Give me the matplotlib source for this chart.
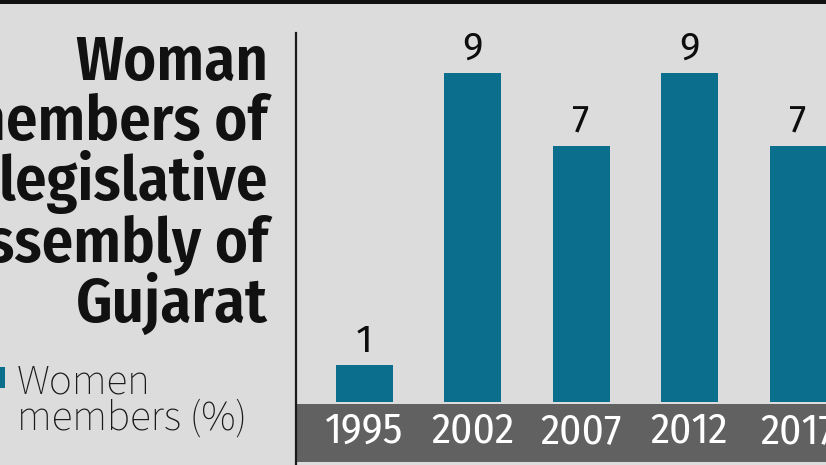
import matplotlib
matplotlib.use('Agg')
import matplotlib.pyplot as plt
from matplotlib import font_manager as fm
from matplotlib.patches import Rectangle
from matplotlib.lines import Line2D

years = ['1995', '2002', '2007', '2012', '2017']
women_pct = [1, 9, 7, 9, 7]
title_lines = ['Woman', 'members of', 'legislative', 'assembly of', 'Gujarat']
legend_lines = ['Women', 'members (%)']

names = {f.name for f in fm.fontManager.ttflist}


def pick(*cands):
    for c in cands:
        if c in names:
            return c
    return 'Liberation Sans'


title_font = pick('Fira Sans Condensed', 'PT Sans Narrow', 'Roboto Condensed')
year_font = pick('Fira Sans Condensed', 'PT Sans Narrow', 'Roboto Condensed')
label_font = pick('Fira Sans', 'Source Sans 3', 'Liberation Sans')
legend_font = pick('Source Sans 3', 'Fira Sans', 'Liberation Sans')

BG = '#dcdcdc'
BAR = '#0a6e8c'
BAND = '#616161'

W, H = 826, 465
fig = plt.figure(figsize=(W / 100, H / 100), dpi=100)
fig.patch.set_facecolor(BG)


def fx(px):
    return px / W


def fy(py):
    return 1 - py / H


# main axes: x 297..826 px, y 35..402 px
ax = fig.add_axes([fx(297), fy(402), fx(826) - fx(297), fy(35) - fy(402)])
ax.set_facecolor('none')
spacing = 108.5
xpos = list(range(len(years)))
left = -(364 - 297) / spacing
ax.set_xlim(left, left + (826 - 297) / spacing)
unit = (402 - 73) / 9
ax.set_ylim(0, (402 - 35) / unit)

bars = ax.bar(xpos, women_pct, width=57 / spacing, color=BAR, zorder=3)
ax.bar_label(bars, labels=[str(v) for v in women_pct], padding=4,
             fontsize=28, family=label_font, weight='normal', color='#0d0d0d')

ax.set_xticks(xpos, years)
ax.tick_params(axis='x', length=0, pad=21)
for lbl in ax.get_xticklabels():
    lbl.set_color('white')
    lbl.set_fontsize(31)
    lbl.set_family(year_font)
    lbl.set_va('center')
ax.set_yticks([])
for s in ax.spines.values():
    s.set_visible(False)

# dark band behind year labels
fig.add_artist(Rectangle((fx(297), fy(462)), 1 - fx(297), fy(404) - fy(462),
                         transform=fig.transFigure, facecolor=BAND,
                         edgecolor='none', zorder=0))
# vertical axis line
fig.add_artist(Line2D([fx(296), fx(296)], [0, fy(33)], transform=fig.transFigure,
                      color='#1a1a1a', lw=1.6))
# top black rule
fig.add_artist(Rectangle((0, fy(4)), 1, fy(0) - fy(4), transform=fig.transFigure,
                         facecolor='#111111', edgecolor='none'))

# title
baselines = [80, 140, 200, 261, 322]
for line, b in zip(title_lines, baselines):
    fig.text(fx(268), fy(b), line, ha='right', va='baseline', fontsize=45,
             weight='semibold', family=title_font, color='#111111')

# legend
fig.add_artist(Rectangle((fx(-16), fy(388)), fx(21), fy(367) - fy(388),
                         transform=fig.transFigure, facecolor=BAR, edgecolor='none'))
for line, b in zip(legend_lines, [393, 430]):
    fig.text(fx(17), fy(b), line, ha='left', va='baseline', fontsize=31,
             family=legend_font, color='#1a1a1a')

fig.savefig('out.png', dpi=100, facecolor=BG)
